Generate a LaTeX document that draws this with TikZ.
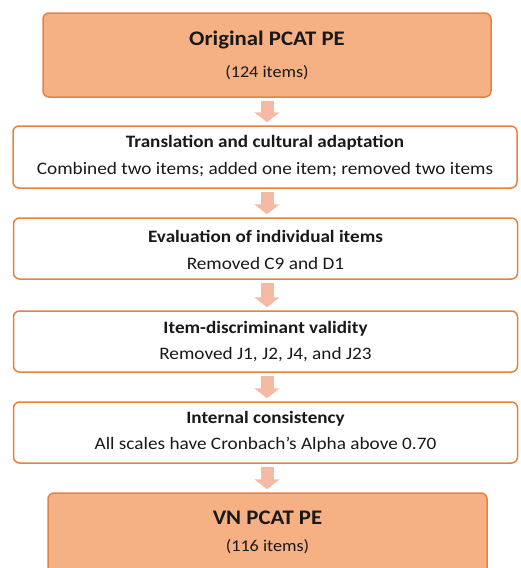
\documentclass[tikz,border=0pt]{standalone}
\usepackage{fontspec}
\setmainfont{Carlito}[FakeStretch=1.1]
\usetikzlibrary{arrows.meta,calc}
\definecolor{boxfill}{RGB}{245,177,131}
\definecolor{boxline}{RGB}{231,130,62}
\definecolor{arrowc}{RGB}{245,186,164}
\definecolor{txt}{RGB}{25,25,25}
\begin{document}
\begin{tikzpicture}[x=1pt,y=-1pt,
  bigbox/.style={draw=boxline, fill=boxfill, line width=1.5pt, rounded corners=6pt, minimum width=448pt, minimum height=84pt, inner sep=0pt},
  stagebox/.style={draw=boxline, fill=white, line width=1.5pt, rounded corners=6pt, minimum width=504pt, minimum height=61pt, inner sep=0pt},
  bigtitle/.style={text=txt, font=\fontsize{20.7}{24}\selectfont\bfseries, inner sep=0pt},
  bigsub/.style={text=txt, font=\fontsize{16.5}{20}\selectfont, inner sep=0pt},
  stitle/.style={text=txt, font=\fontsize{17.4}{21}\selectfont\bfseries, inner sep=0pt},
  sbody/.style={text=txt, font=\fontsize{17.5}{21}\selectfont, inner sep=0pt},
  flow/.style={draw=arrowc, line width=13pt, -{Triangle[length=10pt 0 0, width=25pt 0 0]}, shorten <=3.5pt, shorten >=3pt}
]
\useasboundingbox (0,0) rectangle (520,568);
\clip (0,0) rectangle (520,568);

\node[bigbox] (b1) at (267,55) {};
\node[bigtitle] (b1t) at (267,40) {Original PCAT PE};
\node[bigsub] (b1s) at (267,73) {(124 items)};

\node[stagebox, minimum height=62pt] (b2) at (265,157) {};
\node[stitle] (b2t) at (265,143) {Translation and cultural adaptation};
\node[sbody] (b2b) at (265,170) {Combined two items; added one item; removed two items};

\node[stagebox] (b3) at (265.5,248.5) {};
\node[stitle] (b3t) at (265.5,236) {Evaluation of individual items};
\node[sbody] (b3b) at (265.5,263) {Removed C9 and D1};

\node[stagebox] (b4) at (265.5,341.5) {};
\node[stitle] (b4t) at (265.5,329) {Item-discriminant validity};
\node[sbody] (b4b) at (265.5,355) {Removed J1, J2, J4, and J23};

\node[stagebox] (b5) at (265.5,432.5) {};
\node[stitle] (b5t) at (265.5,419) {Internal consistency};
\node[sbody] (b5b) at (265.5,445) {All scales have Cronbach’s Alpha above 0.70};

\node[bigbox, minimum width=439pt] (b6) at (267.5,535) {};
\node[bigtitle] (b6t) at (267.5,518) {VN PCAT PE};
\node[bigsub] (b6s) at (267.5,547) {(116 items)};

\draw[flow] (b1.south) -- (b1.south |- b2.north);
\draw[flow] (b2.south -| b1.south) -- (b1.south |- b3.north);
\draw[flow] (b3.south -| b1.south) -- (b1.south |- b4.north);
\draw[flow] (b4.south -| b1.south) -- (b1.south |- b5.north);
\draw[flow] (b5.south -| b1.south) -- (b1.south |- b6.north);
\end{tikzpicture}
\end{document}
